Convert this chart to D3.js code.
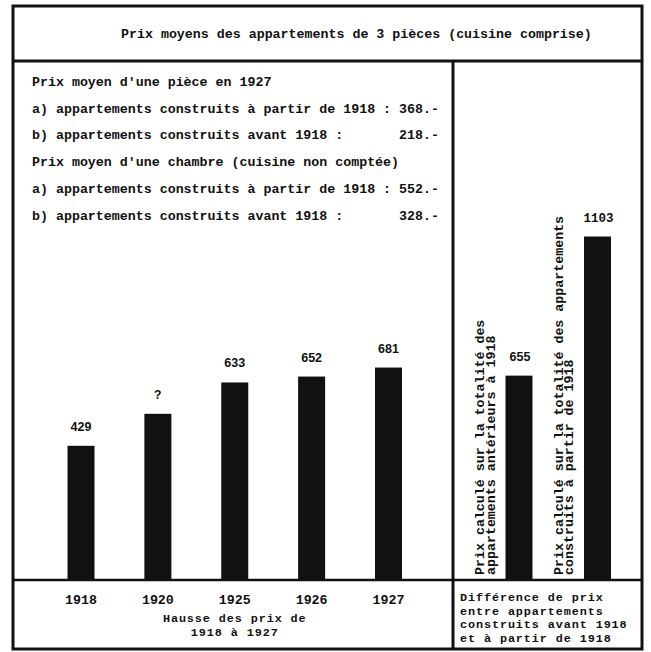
<!DOCTYPE html>
<html>
<head>
<meta charset="utf-8">
<script src="https://cdn.jsdelivr.net/npm/d3@7"></script>
<style>
  html, body { margin: 0; padding: 0; background: #fff; }
  svg { display: block; }
  text { white-space: pre; }
</style>
</head>
<body>
<script>
// ---- data ----
const title = "Prix moyens des appartements de 3 pièces (cuisine comprise)";
const infoLines = [
  "Prix moyen d'une pièce en 1927",
  "a) appartements construits à partir de 1918 : 368.-",
  "b) appartements construits avant 1918 :       218.-",
  "Prix moyen d'une chambre (cuisine non comptée)",
  "a) appartements construits à partir de 1918 : 552.-",
  "b) appartements construits avant 1918 :       328.-"
];
const years = ["1918", "1920", "1925", "1926", "1927"];
const yearValues = [429, 532, 633, 652, 681];
const yearLabels = ["429", "?", "633", "652", "681"];
const leftCaption = ["Hausse des prix de", "1918 à 1927"];

const groups = ["avant", "apres"];
const groupValues = [655, 1103];
const groupLabels = ["655", "1103"];
const groupTexts = [
  ["Prix calculé sur la totalité des", "appartements antérieurs à 1918"],
  ["Prix calculé sur la totalité des appartements", "construits à partir de 1918"]
];
const rightCaption = ["Différence de prix", "entre appartements", "construits avant 1918", "et à partir de 1918"];

// ---- drawing ----
const W = 651, H = 652;
const mono = "'Liberation Mono', 'DejaVu Sans Mono', monospace";
const sans = "'Liberation Sans', Arial, sans-serif";
const ink = "#111";

const svg = d3.select("body").append("svg").attr("width", W).attr("height", H);
svg.append("rect").attr("width", W).attr("height", H).attr("fill", "#fff");

const L = 13, R = 642, T = 6, B = 649;
const titleY = 61, divX = 453, baseY = 579;

const y = d3.scaleLinear().domain([0, 1000]).range([baseY, baseY - 310.5]);
const xL = d3.scalePoint().domain(years).range([81, 388.5]);
const xR = d3.scalePoint().domain(groups).range([520, 598.5]);
const bw = 27;

// bars left
svg.append("g").selectAll("rect").data(years).join("rect")
  .attr("x", d => xL(d) - bw / 2)
  .attr("y", (d, i) => y(yearValues[i]))
  .attr("width", bw)
  .attr("height", (d, i) => baseY - y(yearValues[i]))
  .attr("fill", ink);

svg.append("g").selectAll("text").data(years).join("text")
  .attr("x", d => xL(d))
  .attr("y", (d, i) => y(yearValues[i]) - 15)
  .attr("text-anchor", "middle")
  .attr("font-family", (d, i) => yearLabels[i] === "?" ? mono : sans)
  .attr("font-weight", "bold")
  .attr("font-size", 12.5)
  .attr("fill", ink)
  .text((d, i) => yearLabels[i]);

// bars right
svg.append("g").selectAll("rect").data(groups).join("rect")
  .attr("x", d => xR(d) - bw / 2 - 1)
  .attr("y", (d, i) => y(groupValues[i]))
  .attr("width", bw)
  .attr("height", (d, i) => baseY - y(groupValues[i]))
  .attr("fill", ink);

svg.append("g").selectAll("text").data(groups).join("text")
  .attr("x", d => xR(d))
  .attr("y", (d, i) => y(groupValues[i]) - 15)
  .attr("text-anchor", "middle")
  .attr("font-family", (d, i) => i === 0 ? sans : mono)
  .attr("font-weight", "bold")
  .attr("font-size", 12.5)
  .attr("fill", ink)
  .text((d, i) => groupLabels[i]);

// rotated texts
groups.forEach((g, gi) => {
  groupTexts[gi].forEach((line, li) => {
    const bx = xR(g) - 36 + li * 10.5;
    svg.append("text")
      .attr("transform", `translate(${bx},575) rotate(-90)`)
      .attr("font-family", mono)
      .attr("font-size", 13.3)
      .attr("font-weight", "bold")
      .attr("fill", ink)
      .text(line);
  });
});

// title
svg.append("text")
  .attr("x", 121).attr("y", 37.5)
  .attr("font-family", mono).attr("font-size", 13.3).attr("font-weight", "bold")
  .attr("fill", ink).text(title);

// info lines
svg.append("g").selectAll("text").data(infoLines).join("text")
  .attr("x", 32)
  .attr("y", (d, i) => 86 + i * 26.7)
  .attr("font-family", mono).attr("font-size", 13.3).attr("font-weight", "bold")
  .attr("fill", ink).text(d => d);

// year axis labels
svg.append("g").selectAll("text").data(years).join("text")
  .attr("x", d => xL(d)).attr("y", 604)
  .attr("text-anchor", "middle")
  .attr("font-family", mono).attr("font-size", 13.3).attr("font-weight", "bold")
  .attr("fill", ink).text(d => d);

svg.append("g").selectAll("text").data(leftCaption).join("text")
  .attr("x", (xL(years[0]) + xL(years[years.length - 1])) / 2)
  .attr("y", (d, i) => 622 + i * 13.5)
  .attr("text-anchor", "middle")
  .attr("font-family", mono).attr("font-size", 11.8).attr("letter-spacing", 0.9).attr("font-weight", "bold")
  .attr("fill", ink).text(d => d);

svg.append("g").selectAll("text").data(rightCaption).join("text")
  .attr("x", 460)
  .attr("y", (d, i) => 601 + i * 13.5)
  .attr("font-family", mono).attr("font-size", 11.8).attr("letter-spacing", 0.9).attr("font-weight", "bold")
  .attr("fill", ink).text(d => d);

// frame lines
const lines = svg.append("g").attr("stroke", ink).attr("fill", "none");
lines.append("rect").attr("x", L).attr("y", T).attr("width", R - L).attr("height", B - T).attr("stroke-width", 3);
lines.append("line").attr("x1", L).attr("x2", R).attr("y1", titleY).attr("y2", titleY).attr("stroke-width", 3);
lines.append("line").attr("x1", divX).attr("x2", divX).attr("y1", titleY).attr("y2", B).attr("stroke-width", 3);
lines.append("line").attr("x1", L).attr("x2", R).attr("y1", baseY + 1).attr("y2", baseY + 1).attr("stroke-width", 2.5);
</script>
</body>
</html>
